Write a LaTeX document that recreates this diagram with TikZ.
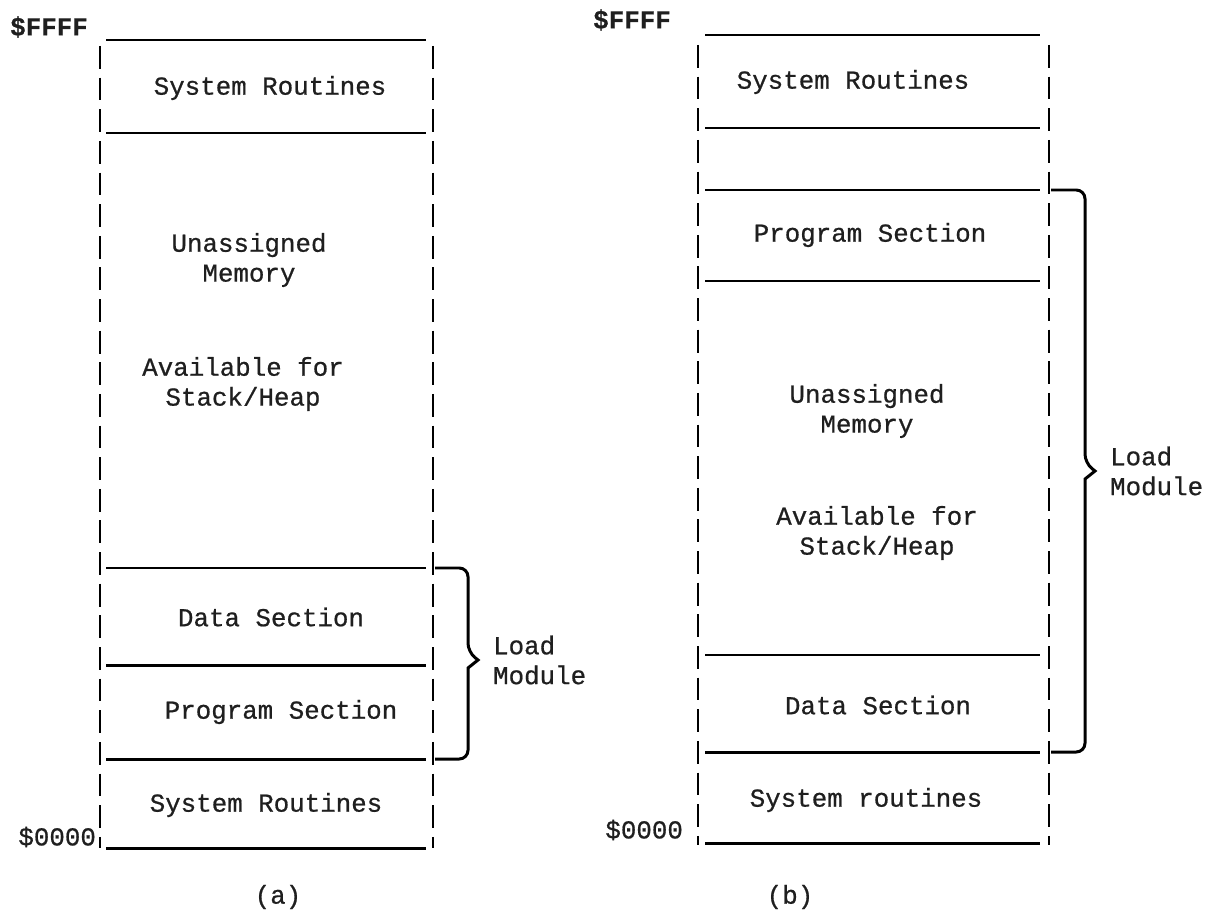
\documentclass[tikz,border=0pt]{standalone}
\usepackage{fontspec}
\usepackage{tikz}
\usetikzlibrary{positioning}
\newfontfamily\typer[FakeBold=0.7, BoldFont={Liberation Mono Bold}, BoldFeatures={FakeBold=0.7}]{Liberation Mono}

\begin{document}
\begin{tikzpicture}[
        wall/.style={line width=1.4pt, dash pattern=on 13pt off 5pt},
        divider/.style={line width=1.7pt},
        lbl/.style={font=\typer\fontsize{14.7}{17}\selectfont, text=black!88, align=center, inner sep=1pt},
        brace/.style={line width=1.7pt, rounded corners=5pt}]
    \useasboundingbox (0,0) rectangle (24.22,18.2);
    % (a) program at the bottom of memory
    \draw[wall] (2.00,17.28) -- (2.00,1.24);
    \draw[wall] (8.66,17.28) -- (8.66,1.24);
    \foreach \y in {17.40,15.54,6.84,4.90,3.02,1.24}
        \draw[divider] (2.12,\y) -- (8.52,\y);
    \node[lbl] (ffffA) at (0.98,17.66) {\bfseries\$FFFF};
    \node[lbl] (sysA) at (5.40,16.44) {System Routines};
    \node[lbl] (freeA) at (4.98,13.00) {Unassigned\\Memory};
    \node[lbl] (heapA) at (4.86,10.52) {Available for\\Stack/Heap};
    \node[lbl] (dataA) at (5.42,5.86) {Data Section};
    \node[lbl] (progA) at (5.62,3.96) {Program Section};
    \node[lbl] (lowA) at (5.32,2.10) {System Routines};
    \node[lbl, anchor=east] (zeroA) at (1.96,1.46) {\$0000};
    \node[lbl] (capA) at (5.56,0.26) {(a)};
    \coordinate (tipA) at (9.56,5.00);
    \draw[brace] (8.70,6.84) -- (9.36,6.84) -- (9.36,5.16) [sharp corners] -- (tipA)
        -- (9.36,4.84) [rounded corners=5pt] -- (9.36,3.02) -- (8.70,3.02);
    \node[lbl, align=left, right=0.26cm of tipA] (loadA) {Load\\Module};

    % (b) program at the top of memory
    \draw[wall] (13.96,17.30) -- (13.96,1.30);
    \draw[wall] (20.98,17.30) -- (20.98,1.30);
    \foreach \y in {17.50,15.64,14.40,12.58,5.10,3.16,1.34}
        \draw[divider] (14.10,\y) -- (20.80,\y);
    \node[lbl] (ffffB) at (12.64,17.80) {\bfseries\$FFFF};
    \node[lbl] (sysB) at (17.06,16.56) {System Routines};
    \node[lbl] (progB) at (17.40,13.50) {Program Section};
    \node[lbl] (freeB) at (17.34,9.98) {Unassigned\\Memory};
    \node[lbl] (heapB) at (17.54,7.54) {Available for\\Stack/Heap};
    \node[lbl] (dataB) at (17.56,4.10) {Data Section};
    \node[lbl] (lowB) at (17.32,2.20) {System routines};
    \node[lbl, anchor=east] (zeroB) at (13.70,1.60) {\$0000};
    \node[lbl] (capB) at (15.80,0.26) {(b)};
    \coordinate (tipB) at (21.90,8.78);
    \draw[brace] (21.02,14.40) -- (21.70,14.40) -- (21.70,8.94) [sharp corners] -- (tipB)
        -- (21.70,8.62) [rounded corners=5pt] -- (21.70,3.16) -- (21.02,3.16);
    \node[lbl, align=left, right=0.26cm of tipB] (loadB) {Load\\Module};
\end{tikzpicture}
\end{document}
